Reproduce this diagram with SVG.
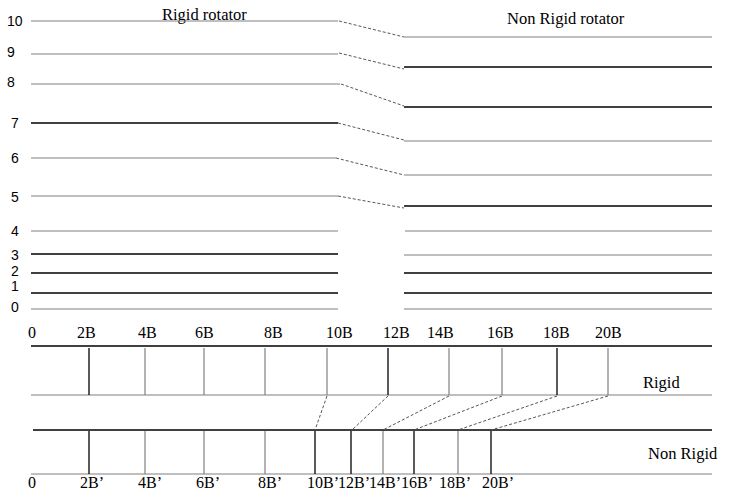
<svg xmlns="http://www.w3.org/2000/svg" width="735" height="498" viewBox="0 0 735 498">
<style>
.g{stroke:#808080;stroke-width:1.2;fill:none}
.k{stroke:#000;stroke-width:1.3;fill:none}
.d{stroke:#555;stroke-width:1;stroke-dasharray:3 2;fill:none}
.n{font-family:'Liberation Sans',Arial,sans-serif;font-size:14px;fill:#000}
.t{font-family:'Liberation Serif',Tinos,'Times New Roman','DejaVu Serif',serif;font-size:16.5px;fill:#000}
.a{font-family:'Liberation Serif',Tinos,'Times New Roman','DejaVu Serif',serif;font-size:16px;fill:#000}
</style>
<rect width="735" height="498" fill="#fff"/>
<g id="titles">
<text class="t" x="162" y="20">Rigid rotator</text>
<text class="t" x="507" y="24">Non Rigid rotator</text>
</g>
<g id="rigid-levels">
<g id="rigid-10"><text class="n" x="7" y="26">10</text><line class="g" x1="31" y1="21" x2="338" y2="21"/></g>
<g id="rigid-9"><text class="n" x="7" y="57">9</text><line class="g" x1="31" y1="54" x2="338" y2="54"/></g>
<g id="rigid-8"><text class="n" x="7" y="87">8</text><line class="g" x1="31" y1="84" x2="340" y2="84"/></g>
<g id="rigid-7"><text class="n" x="11" y="128">7</text><line class="k" x1="31" y1="123" x2="338" y2="123"/></g>
<g id="rigid-6"><text class="n" x="11" y="163">6</text><line class="g" x1="31" y1="158" x2="336" y2="158"/></g>
<g id="rigid-5"><text class="n" x="11" y="202">5</text><line class="g" x1="31" y1="196" x2="338" y2="196"/></g>
<g id="rigid-4"><text class="n" x="11" y="236">4</text><line class="g" x1="31" y1="231" x2="338" y2="231"/></g>
<g id="rigid-3"><text class="n" x="11" y="260">3</text><line class="k" x1="31" y1="254" x2="338" y2="254"/></g>
<g id="rigid-2"><text class="n" x="11" y="276">2</text><line class="k" x1="31" y1="273" x2="338" y2="273"/></g>
<g id="rigid-1"><text class="n" x="11" y="291">1</text><line class="k" x1="31" y1="293" x2="338" y2="293"/></g>
<g id="rigid-0"><text class="n" x="11" y="312">0</text><line class="g" x1="31" y1="309" x2="338" y2="309"/></g>
</g>
<g id="nonrigid-levels">
<g id="nonrigid-10"><line class="g" x1="404" y1="37" x2="712" y2="37"/></g>
<g id="nonrigid-9"><line class="k" x1="404" y1="67" x2="712" y2="67"/></g>
<g id="nonrigid-8"><line class="k" x1="404" y1="107" x2="712" y2="107"/></g>
<g id="nonrigid-7"><line class="g" x1="404" y1="141" x2="712" y2="141"/></g>
<g id="nonrigid-6"><line class="g" x1="404" y1="175" x2="712" y2="175"/></g>
<g id="nonrigid-5"><line class="k" x1="404" y1="206" x2="712" y2="206"/></g>
<g id="nonrigid-4"><line class="g" x1="405" y1="231" x2="712" y2="231"/></g>
<g id="nonrigid-3"><line class="g" x1="404" y1="255" x2="712" y2="255"/></g>
<g id="nonrigid-2"><line class="k" x1="404" y1="273" x2="712" y2="273"/></g>
<g id="nonrigid-1"><line class="k" x1="404" y1="293" x2="712" y2="293"/></g>
<g id="nonrigid-0"><line class="g" x1="404" y1="309" x2="712" y2="309"/></g>
</g>
<g id="level-connectors">
<line class="d" x1="339" y1="21" x2="404" y2="37"/>
<line class="d" x1="339" y1="53" x2="404" y2="69"/>
<line class="d" x1="341" y1="84" x2="404" y2="106"/>
<line class="d" x1="338" y1="123" x2="404" y2="140"/>
<line class="d" x1="336" y1="158" x2="404" y2="175"/>
<line class="d" x1="338" y1="196" x2="404" y2="208"/>
</g>
<g id="rigid-spectrum">
<g id="rigid-axis">
<text class="a" x="28" y="338">0</text>
<text class="a" x="77" y="338">2B</text>
<text class="a" x="138" y="338">4B</text>
<text class="a" x="195" y="338">6B</text>
<text class="a" x="264" y="338">8B</text>
<text class="a" x="326" y="338">10B</text>
<text class="a" x="383" y="338">12B</text>
<text class="a" x="427" y="338">14B</text>
<text class="a" x="487" y="338">16B</text>
<text class="a" x="543" y="338">18B</text>
<text class="a" x="595" y="338">20B</text>
</g>
<line class="k" x1="31" y1="346" x2="712" y2="346"/>
<line class="g" x1="31" y1="395" x2="712" y2="395"/>
<line class="k" x1="89" y1="348" x2="89" y2="395"/>
<line class="g" x1="145" y1="348" x2="145" y2="395"/>
<line class="g" x1="204" y1="348" x2="204" y2="395"/>
<line class="g" x1="265" y1="348" x2="265" y2="395"/>
<line class="g" x1="327" y1="348" x2="327" y2="395"/>
<line class="k" x1="388" y1="348" x2="388" y2="395"/>
<line class="g" x1="449" y1="348" x2="449" y2="395"/>
<line class="g" x1="502" y1="348" x2="502" y2="395"/>
<line class="k" x1="557" y1="348" x2="557" y2="395"/>
<line class="g" x1="608" y1="348" x2="608" y2="395"/>
<text class="t" x="643" y="388">Rigid</text>
</g>
<g id="nonrigid-spectrum">
<line class="k" x1="33" y1="430" x2="712" y2="430"/>
<line class="g" x1="31" y1="474" x2="712" y2="474"/>
<line class="k" x1="89" y1="431" x2="89" y2="474"/>
<line class="g" x1="145" y1="431" x2="145" y2="474"/>
<line class="g" x1="204" y1="431" x2="204" y2="474"/>
<line class="g" x1="265" y1="431" x2="265" y2="474"/>
<line class="k" x1="315" y1="431" x2="315" y2="474"/>
<line class="k" x1="351" y1="431" x2="351" y2="474"/>
<line class="g" x1="383" y1="431" x2="383" y2="474"/>
<line class="k" x1="414" y1="431" x2="414" y2="474"/>
<line class="g" x1="458" y1="431" x2="458" y2="474"/>
<line class="k" x1="491" y1="431" x2="491" y2="474"/>
<text class="t" x="648" y="459">Non Rigid</text>
<g id="nonrigid-axis">
<text class="a" x="28" y="488">0</text>
<text class="a" x="80" y="488">2B’</text>
<text class="a" x="138" y="488">4B’</text>
<text class="a" x="196" y="488">6B’</text>
<text class="a" x="258" y="488">8B’</text>
<text class="a" x="307" y="488">10B’</text>
<text class="a" x="338" y="488">12B’</text>
<text class="a" x="369" y="488">14B’</text>
<text class="a" x="401" y="488">16B’</text>
<text class="a" x="439" y="488">18B’</text>
<text class="a" x="482" y="488">20B’</text>
</g>
</g>
<g id="line-connectors">
<line class="d" x1="327" y1="396" x2="315" y2="430"/>
<line class="d" x1="388" y1="396" x2="352" y2="430"/>
<line class="d" x1="449" y1="396" x2="383" y2="430"/>
<line class="d" x1="502" y1="396" x2="414" y2="430"/>
<line class="d" x1="557" y1="396" x2="458" y2="430"/>
<line class="d" x1="608" y1="396" x2="491" y2="430"/>
</g>
</svg>
